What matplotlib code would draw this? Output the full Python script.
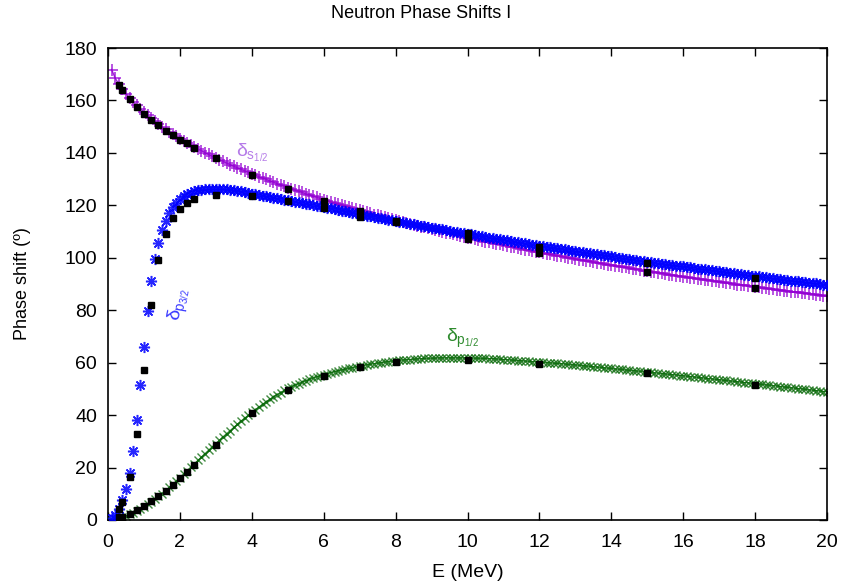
"""Neutron phase shifts: model curves against measured values."""

import numpy as np
import matplotlib
matplotlib.use("Agg")
import matplotlib.pyplot as plt


# energy grid of the model curves (MeV), 0.1 MeV steps
ENERGY = np.round(np.arange(1, 201) * 0.1, 1)

DELTA_S12 = [
    171.8, 168.5, 166.2, 164.3, 162.6, 161.0, 159.5, 158.1, 156.8, 155.5,
    154.3, 153.2, 152.1, 151.0, 150.0, 149.0, 148.1, 147.2, 146.3, 145.4,
    144.6, 143.8, 143.0, 142.2, 141.5, 140.8, 140.1, 139.4, 138.7, 138.0,
    137.4, 136.8, 136.1, 135.5, 134.9, 134.3, 133.7, 133.2, 132.6, 132.0,
    131.5, 130.9, 130.4, 129.9, 129.3, 128.8, 128.3, 127.8, 127.3, 126.8,
    126.3, 125.8, 125.4, 124.9, 124.4, 124.0, 123.5, 123.1, 122.6, 122.2,
    121.8, 121.3, 120.9, 120.5, 120.1, 119.7, 119.3, 118.9, 118.5, 118.1,
    117.7, 117.3, 116.9, 116.5, 116.2, 115.8, 115.4, 115.1, 114.7, 114.3,
    114.0, 113.6, 113.3, 112.9, 112.6, 112.2, 111.9, 111.6, 111.2, 110.9,
    110.6, 110.2, 109.9, 109.6, 109.3, 109.0, 108.7, 108.3, 108.0, 107.7,
    107.4, 107.1, 106.8, 106.5, 106.2, 105.9, 105.7, 105.4, 105.1, 104.8,
    104.5, 104.2, 104.0, 103.7, 103.4, 103.1, 102.9, 102.6, 102.3, 102.1,
    101.8, 101.6, 101.3, 101.0, 100.8, 100.5, 100.3, 100.0, 99.8, 99.5,
    99.3, 99.1, 98.8, 98.6, 98.3, 98.1, 97.9, 97.6, 97.4, 97.2,
    96.9, 96.7, 96.5, 96.3, 96.0, 95.8, 95.6, 95.4, 95.1, 94.9,
    94.7, 94.5, 94.3, 94.1, 93.9, 93.6, 93.4, 93.2, 93.0, 92.8,
    92.6, 92.4, 92.2, 92.0, 91.8, 91.6, 91.4, 91.2, 91.0, 90.8,
    90.6, 90.4, 90.2, 90.0, 89.8, 89.7, 89.5, 89.3, 89.1, 88.9,
    88.7, 88.5, 88.4, 88.2, 88.0, 87.8, 87.6, 87.5, 87.3, 87.1,
    86.9, 86.8, 86.6, 86.4, 86.3, 86.1, 85.9, 85.8, 85.6, 85.4,
]

DELTA_P32 = [
    0.6, 2.0, 4.3, 7.5, 12.0, 18.0, 26.5, 38.0, 51.5, 66.0,
    79.8, 91.0, 99.5, 105.8, 110.7, 114.2, 117.0, 119.3, 121.0, 122.4,
    123.4, 124.2, 124.8, 125.3, 125.7, 125.9, 126.1, 126.2, 126.3, 126.3,
    126.3, 126.2, 126.1, 126.0, 125.8, 125.6, 125.4, 125.1, 124.8, 124.5,
    124.2, 124.0, 123.7, 123.4, 123.2, 122.9, 122.7, 122.4, 122.2, 121.9,
    121.6, 121.4, 121.1, 120.9, 120.6, 120.4, 120.1, 119.8, 119.6, 119.3,
    119.0, 118.8, 118.5, 118.2, 118.0, 117.7, 117.4, 117.2, 116.9, 116.6,
    116.3, 116.1, 115.8, 115.6, 115.3, 115.0, 114.8, 114.5, 114.3, 114.0,
    113.8, 113.5, 113.3, 113.0, 112.8, 112.5, 112.3, 112.0, 111.8, 111.5,
    111.3, 111.0, 110.8, 110.5, 110.3, 110.0, 109.8, 109.6, 109.3, 109.1,
    108.9, 108.6, 108.4, 108.2, 107.9, 107.7, 107.5, 107.3, 107.0, 106.8,
    106.6, 106.4, 106.1, 105.9, 105.7, 105.5, 105.3, 105.0, 104.8, 104.6,
    104.4, 104.2, 104.0, 103.8, 103.6, 103.4, 103.2, 102.9, 102.7, 102.5,
    102.3, 102.1, 101.9, 101.7, 101.5, 101.3, 101.1, 100.9, 100.7, 100.5,
    100.3, 100.1, 99.9, 99.7, 99.5, 99.3, 99.1, 98.9, 98.7, 98.5,
    98.3, 98.1, 97.9, 97.8, 97.6, 97.4, 97.2, 97.0, 96.8, 96.7,
    96.5, 96.3, 96.1, 95.9, 95.8, 95.6, 95.4, 95.2, 95.0, 94.8,
    94.7, 94.5, 94.3, 94.1, 94.0, 93.8, 93.6, 93.4, 93.2, 93.0,
    92.9, 92.7, 92.5, 92.4, 92.2, 92.0, 91.9, 91.7, 91.5, 91.3,
    91.2, 91.0, 90.8, 90.7, 90.5, 90.3, 90.2, 90.0, 89.8, 89.6,
]

DELTA_P12 = [
    0.1, 0.3, 0.6, 1.0, 1.5, 2.1, 2.8, 3.5, 4.3, 5.1,
    6.0, 7.0, 8.0, 9.0, 10.1, 11.2, 12.4, 13.6, 14.9, 16.2,
    17.5, 18.8, 20.1, 21.4, 22.7, 24.0, 25.3, 26.6, 27.9, 29.1,
    30.4, 31.7, 32.9, 34.1, 35.3, 36.5, 37.7, 38.8, 39.9, 41.0,
    42.1, 43.1, 44.1, 45.1, 46.0, 46.9, 47.8, 48.6, 49.4, 50.2,
    50.8, 51.4, 52.0, 52.6, 53.1, 53.6, 54.1, 54.6, 55.0, 55.4,
    55.8, 56.2, 56.6, 56.9, 57.2, 57.5, 57.8, 58.1, 58.4, 58.7,
    58.9, 59.2, 59.4, 59.6, 59.8, 60.0, 60.2, 60.4, 60.6, 60.7,
    60.9, 61.0, 61.1, 61.2, 61.3, 61.4, 61.5, 61.6, 61.6, 61.7,
    61.7, 61.8, 61.8, 61.8, 61.8, 61.8, 61.8, 61.8, 61.8, 61.8,
    61.7, 61.7, 61.7, 61.6, 61.6, 61.5, 61.5, 61.4, 61.3, 61.2,
    61.1, 61.0, 60.9, 60.8, 60.7, 60.6, 60.5, 60.4, 60.3, 60.2,
    60.1, 60.0, 59.9, 59.8, 59.7, 59.6, 59.5, 59.3, 59.2, 59.1,
    59.0, 58.8, 58.7, 58.6, 58.4, 58.3, 58.2, 58.0, 57.9, 57.8,
    57.6, 57.5, 57.4, 57.2, 57.1, 57.0, 56.8, 56.7, 56.5, 56.4,
    56.3, 56.1, 56.0, 55.8, 55.7, 55.5, 55.4, 55.3, 55.1, 55.0,
    54.8, 54.7, 54.5, 54.4, 54.2, 54.1, 53.9, 53.8, 53.6, 53.5,
    53.3, 53.2, 53.0, 52.9, 52.7, 52.6, 52.4, 52.3, 52.1, 52.0,
    51.8, 51.7, 51.5, 51.4, 51.2, 51.1, 50.9, 50.7, 50.6, 50.4,
    50.3, 50.1, 50.0, 49.8, 49.6, 49.5, 49.3, 49.2, 49.0, 48.9,
]

# measured phase shifts (black squares)
EXP_E = [0.3, 0.4, 0.6, 0.8, 1.0, 1.2, 1.4, 1.6, 1.8, 2.0, 2.2, 2.4,
         3.0, 4.0, 5.0, 6.0, 7.0, 8.0, 10.0, 12.0, 15.0, 18.0]
EXP_S12 = [166.0, 164.0, 160.6, 157.5, 155.0, 152.5, 150.6, 148.5, 146.8,
           144.9, 143.6, 141.9, 138.1, 131.6, 126.3, 121.8, 117.8, 114.2,
           107.0, 101.8, 94.5, 88.4]
EXP_P32 = [4.2, 7.0, 16.3, 32.8, 57.3, 82.0, 99.2, 109.0, 115.0, 118.6,
           120.9, 122.4, 123.9, 123.7, 121.8, 119.0, 115.6, 113.8, 109.5,
           104.1, 98.0, 92.2]
EXP_P12 = [1.0, 1.1, 2.2, 3.8, 5.2, 7.4, 9.0, 11.0, 13.2, 15.9, 18.3, 20.9,
           28.5, 40.8, 49.5, 54.8, 58.3, 60.2, 61.0, 59.4, 56.0, 51.5]

X_TICKS = list(range(0, 21, 2))
Y_TICKS = list(range(0, 181, 20))

PURPLE = "#9400d3"
BLUE = "#0000ff"
GREEN = "#006400"


def main() -> None:
    plt.rcParams["font.family"] = ["Liberation Sans", "DejaVu Sans"]
    plt.rcParams["mathtext.fontset"] = "custom"
    plt.rcParams["mathtext.rm"] = "Liberation Sans"
    plt.rcParams["mathtext.it"] = "Liberation Sans"
    plt.rcParams["font.size"] = 13

    fig = plt.figure(figsize=(8.42, 5.84), dpi=100)
    ax = fig.add_axes([0.1283, 0.1096, 0.8539, 0.8082])

    ax.plot(ENERGY, DELTA_S12, color=PURPLE, lw=1.0, marker="+",
            ms=8, mew=1.1, alpha=0.85, zorder=2)
    ax.plot(ENERGY, DELTA_P32, color=BLUE, lw=0, marker=(8, 2, 0),
            ms=8, mew=1.1, alpha=0.85, zorder=3)
    ax.plot(ENERGY, DELTA_P12, color=GREEN, lw=1.0, marker="x",
            ms=5.5, mew=1.0, alpha=0.75, zorder=2)

    for values in (EXP_S12, EXP_P32, EXP_P12):
        ax.plot(EXP_E, values, ls="none", marker="s", ms=4.6,
                color="black", zorder=5)

    ax.text(3.55, 138.5, r"$\delta_{\mathrm{s}_{1/2}}$", color="#b57be8",
            fontsize=14)
    ax.text(1.6, 78, r"$\delta_{\mathrm{p}_{3/2}}$", color="#3a3aff",
            fontsize=14, rotation=80)
    ax.text(9.4, 68, r"$\delta_{\mathrm{p}_{1/2}}$", color="#2e8b2e",
            fontsize=14)

    ax.set_xlim(0, 20)
    ax.set_ylim(0, 180)
    ax.set_xticks(X_TICKS)
    ax.set_yticks(Y_TICKS)
    ax.tick_params(direction="in", length=6, width=1.0, top=True,
                   right=True, labelsize=14)
    ax.tick_params(axis="x", pad=10)
    ax.tick_params(axis="y", pad=8)
    for spine in ax.spines.values():
        spine.set_linewidth(1.2)

    fig.text(0.5, 1 - 14 / 584, "Neutron Phase Shifts I", fontsize=13,
             ha="center", va="center")
    ax.set_xlabel("E (MeV)", fontsize=14, va="center")
    ax.set_ylabel("Phase shift (º)", fontsize=13, va="center")
    ax.xaxis.set_label_coords(0.5, -0.1123)
    ax.yaxis.set_label_coords(-0.1196, 0.5)

    fig.savefig("out.png", dpi=100)
    plt.close(fig)


if __name__ == "__main__":
    main()
